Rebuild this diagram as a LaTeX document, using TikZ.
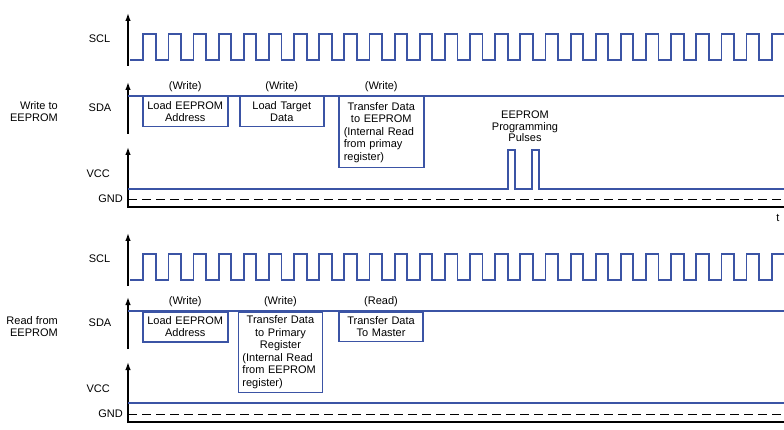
\documentclass[tikz,border=0pt]{standalone}
\usepackage{fontspec}
\setmainfont{Liberation Sans}
\usetikzlibrary{positioning,arrows.meta}
\definecolor{sigblue}{RGB}{59,84,165}
\newcommand{\lline}[1]{\makebox[\hsize][l]{#1}}

\begin{document}
\begin{tikzpicture}[x=1pt,y=-1pt,line width=1.4pt,
  font=\fontsize{11}{12.5}\selectfont,
  sig/.style={draw=sigblue,line width=1.8pt,line join=miter},
  axis/.style={line width=1.4pt,-{Latex[length=8pt,width=5.5pt]}},
  gnd/.style={line width=0.9pt,dash pattern=on 9pt off 5pt},
  opbox/.style={draw=sigblue,line width=1.5pt,inner sep=0pt,
    anchor=north west,align=center},
  signame/.style={anchor=east,inner sep=0pt},
  rw/.style={inner sep=0pt}]

  \useasboundingbox (0,0) rectangle (784,430);

  \def\xax{128}  \def\xend{784}
  \def\xa{143.3} \def\per{25.136} \def\hw{12.5}

  % --- both panels: axes, clock, SDA idle, GND, signal names ---
  %   \cy = shift of the clock row, \dy = shift of SDA / VCC rows
  \foreach \p/\cy/\dy/\mode in {top/0/0/Write to, bot/220/215/Read from} {
    % axes
    \draw[axis] (\xax,66+\cy) -- (\xax,13+\cy);
    \draw[axis] (\xax,134+\dy) -- (\xax,82+\dy);
    \draw[axis] (\xax,208+\dy) -- (\xax,147+\dy);
    \draw[line width=2pt] (\xax-0.7,207+\dy) -- (\xend,207+\dy);
    % ground reference
    \draw[gnd] (\xax,199+\dy) -- (\xend,199+\dy);
    % clock
    \draw[sig] (130,60+\cy) \foreach \k in {0,...,24} {
      -- ({\xa+\k*\per},60+\cy) -- ({\xa+\k*\per},34+\cy)
      -- ({\xa+\k*\per+\hw},34+\cy) -- ({\xa+\k*\per+\hw},60+\cy)}
      -- ({\xa+25*\per},60+\cy) -- ({\xa+25*\per},34+\cy) -- (\xend,34+\cy);
    % SDA idle high
    \draw[sig] (\xax,96+\dy) -- (\xend,96+\dy);
    % names
    \node[signame] (scl-\p) at (111,39+\cy) {SCL};
    \node[signame] (sda-\p) at (112,108+\dy) {SDA};
    \node[signame] (vcc-\p) at (110.5,174+\dy) {VCC};
    \node[signame] (gnd-\p) at (123.5,199+\dy) {GND};
    \node[signame,align=right] (mode-\p) at (58.5,111.5+\dy) {\mode\\EEPROM};
  }

  % --- write cycle ---
  \node[opbox,minimum width=85pt,minimum height=30pt,text width=77pt]
    (ldaddr-top) at (142,96) {Load EEPROM\\Address};
  \node[opbox,minimum width=84pt,minimum height=30pt,text width=76pt]
    (lddata-top) at (239,96) {Load Target\\Data};
  \node[opbox,minimum width=85pt,minimum height=71pt,text width=75pt]
    (xfer-top) at (338,96)
    {Transfer Data\\to EEPROM\\\lline{(Internal Read}\\\lline{from primay}\\\lline{register)}};
  \node[rw,above=3.5pt of ldaddr-top] (rw1-top) {(Write)};
  \node[rw,above=3.5pt of lddata-top] (rw2-top) {(Write)};
  \node[rw,above=3.5pt of xfer-top]   (rw3-top) {(Write)};

  % VCC with the two programming pulses
  \draw[sig] (\xax,189) -- (508.3,189) -- (508.3,150) -- (515,150) -- (515,189)
    -- (531.7,189) -- (531.7,150) -- (539.3,150) -- (539.3,189) -- (\xend,189);
  \node[align=center,inner sep=0pt,font=\fontsize{11}{11.5}\selectfont]
    (pulses) at (525,126.5) {EEPROM\\Programming\\Pulses};
  \node[inner sep=0pt] (tlbl) at (778,218) {t};

  % --- read cycle ---
  \node[opbox,minimum width=85pt,minimum height=30pt,text width=77pt]
    (ldaddr-bot) at (142,311) {Load EEPROM\\Address};
  \node[opbox,minimum width=84pt,minimum height=80.7pt,text width=76pt]
    (xfer-bot) at (237.7,311)
    {Transfer Data\\to Primary\\Register\\\lline{(Internal Read}\\\lline{from EEPROM}\\\lline{register)}};
  \node[opbox,minimum width=84pt,minimum height=29.7pt,text width=76pt]
    (tomaster-bot) at (338.3,311) {Transfer Data\\To Master};
  \node[rw,above=3.5pt of ldaddr-bot]   (rw1-bot) {(Write)};
  \node[rw,above=3.5pt of xfer-bot]     (rw2-bot) {(Write)};
  \node[rw,above=3.5pt of tomaster-bot] (rw3-bot) {(Read)};

  % VCC stays on
  \draw[sig] (\xax,403) -- (\xend,403);

\end{tikzpicture}
\end{document}
